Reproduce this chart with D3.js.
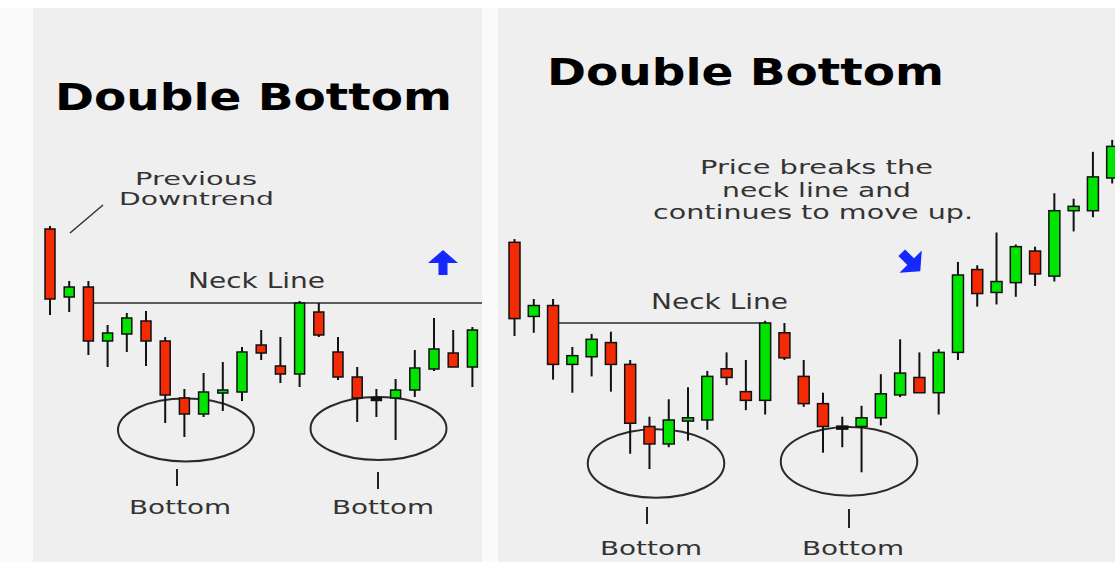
<!DOCTYPE html>
<html>
<head>
<meta charset="utf-8">
<script src="https://cdn.jsdelivr.net/npm/d3@7"></script>
<style>
  html, body { margin: 0; padding: 0; background: #ffffff; }
  svg { display: block; }
</style>
</head>
<body>
<div id="chart"></div>
<script>
// candle values (price units)
const openP  = [221, 153, 163, 109, 116, 129, 109, 52, 36, 57, 58, 105, 84, 76, 138, 98, 73, 51, 52, 60, 81, 97, 83,
                120, 196, 175, 184, 213, 190, 250, 250, 280];
const highP  = [224, 169, 169, 125, 137, 139, 113, 61, 77, 88, 103, 120, 113, 149, 147, 113, 83, 61, 71, 100, 132, 120, 123,
                203, 200, 230, 219, 217, 266, 261, 304, 315];
const lowP   = [135, 138, 95, 83, 98, 84, 27, 13, 33, 39, 49, 90, 67, 63, 113, 70, 28, 33, 10, 53, 79, 83, 63,
                113, 162, 164, 171, 181, 185, 231, 244, 275];
const closeP = [151, 163, 109, 117, 132, 109, 55, 36, 58, 60, 98, 97, 76, 147, 115, 73, 52, 51, 60, 82, 101, 83, 120,
                191, 174, 185, 217, 192, 250, 254, 281, 309];
const neckPrice = 147;

const leftCount = 23;
const rightCount = 32;

const titleText = 'Double Bottom';
const bottomLabel = 'Bottom';
const neckLabel = 'Neck Line';
const prevLines = ['Previous', 'Downtrend'];
const breakLines = ['Price breaks the', 'neck line and', 'continues to move up.'];

const W = 1115, H = 562;
const RED = '#f42a04', GREEN = '#00e400', INK = '#111', TXT = '#333', BLUE = '#1428ff';
const FONT = '"DejaVu Sans", Verdana, sans-serif';

const candles = d3.range(rightCount).map(i => ({
  i, o: openP[i], h: highP[i], l: lowP[i], c: closeP[i]
}));

const svg = d3.select('#chart').append('svg')
  .attr('width', W).attr('height', H);

svg.append('rect').attr('x', 0).attr('y', 8).attr('width', W).attr('height', H - 8).attr('fill', '#fafafa');

function fitText(g, str, x, y, width, size, weight, fill) {
  return g.append('text')
    .attr('x', x).attr('y', y)
    .attr('textLength', width).attr('lengthAdjust', 'spacingAndGlyphs')
    .attr('font-family', FONT).attr('font-size', size)
    .attr('font-weight', weight).attr('fill', fill)
    .text(str);
}

function drawPanel(p) {
  const g = svg.append('g');
  g.append('rect')
    .attr('x', p.bg[0]).attr('y', p.bg[1]).attr('width', p.bg[2]).attr('height', p.bg[3])
    .attr('fill', '#efefef');

  const x = d3.scaleLinear().domain([0, p.n - 1]).range(p.xRange);
  const y = d3.scaleLinear().domain([0, 300]).range(p.yRange);
  const data = candles.slice(0, p.n);
  const bw = p.bodyW;

  // ellipses around the two bottoms
  g.selectAll('ellipse.bot')
    .data(p.ellipses)
    .join('ellipse')
    .attr('cx', d => x(d[0]))
    .attr('cy', d => y(d[1]))
    .attr('rx', x(3.54) - x(0))
    .attr('ry', y(0) - y(31.5))
    .attr('fill', 'none').attr('stroke', '#2a2a2a').attr('stroke-width', 2);

  // neck line
  g.append('line')
    .attr('x1', x(2) + bw / 2).attr('x2', p.neckEnd(x, bw))
    .attr('y1', y(neckPrice)).attr('y2', y(neckPrice))
    .attr('stroke', '#2a2a2a').attr('stroke-width', 1.6);

  g.selectAll('line.wick')
    .data(data)
    .join('line')
    .attr('class', 'wick')
    .attr('x1', d => x(d.i)).attr('x2', d => x(d.i))
    .attr('y1', d => y(d.h)).attr('y2', d => y(d.l))
    .attr('stroke', INK).attr('stroke-width', 2);

  g.selectAll('rect.body')
    .data(data)
    .join('rect')
    .attr('class', 'body')
    .attr('x', d => x(d.i) - bw / 2)
    .attr('width', bw)
    .attr('y', d => d.o === d.c ? y(d.o) - 1.5 : y(Math.max(d.o, d.c)))
    .attr('height', d => d.o === d.c ? 3 : Math.abs(y(d.o) - y(d.c)))
    .attr('fill', d => d.c > d.o ? GREEN : d.c < d.o ? RED : INK)
    .attr('stroke', INK).attr('stroke-width', 1.5);

  // ticks and labels below ellipses
  p.bottoms.forEach(b => {
    g.append('line')
      .attr('x1', b.tick).attr('x2', b.tick)
      .attr('y1', b.ty[0]).attr('y2', b.ty[1])
      .attr('stroke', '#222').attr('stroke-width', 2);
    fitText(g, bottomLabel, b.lx, b.ly, 102, 20, 'normal', TXT);
  });

  fitText(g, neckLabel, p.neck[0], p.neck[1], 137, 21, 'normal', TXT);
  fitText(g, titleText, p.title[0], p.title[1], 397, 38, 'bold', '#000');

  // blue arrow
  g.append('path')
    .attr('d', 'M0,-12.5 L15,0.5 L4.5,0.5 L4.5,12.5 L-4.5,12.5 L-4.5,0.5 L-15,0.5 Z')
    .attr('transform', p.arrow)
    .attr('fill', BLUE);
  return g;
}

const left = drawPanel({
  n: leftCount,
  bg: [33, 8, 449, H - 8],
  xRange: [50, 472.4],
  yRange: [450, 150],
  bodyW: 10,
  neckEnd: () => 482,
  ellipses: [[7.08, 20], [17.11, 21.5]],
  bottoms: [
    { tick: 177, ty: [469, 486], lx: 129, ly: 514 },
    { tick: 378, ty: [472, 489], lx: 332, ly: 514 }
  ],
  neck: [188, 288],
  title: [55, 110],
  arrow: 'translate(443,262.5)'
});

const right = drawPanel({
  n: rightCount,
  bg: [498, 8, W - 498, H - 8],
  xRange: [514.5, 1112.2],
  yRange: [483.2, 156.2],
  bodyW: 11,
  neckEnd: (x, bw) => x(13) - bw / 2,
  ellipses: [[7.34, 18.1], [17.35, 20]],
  bottoms: [
    { tick: 647, ty: [507, 524], lx: 600, ly: 555 },
    { tick: 849, ty: [509, 528], lx: 802, ly: 555 }
  ],
  neck: [651, 309],
  title: [547, 85],
  arrow: 'translate(911,262) rotate(135) scale(1.05)'
});

// "Previous Downtrend" note with pointer
fitText(left, prevLines[0], 135, 185, 122, 18, 'normal', TXT);
fitText(left, prevLines[1], 119, 205, 155, 18, 'normal', TXT);
left.append('line')
  .attr('x1', 70).attr('y1', 233).attr('x2', 103).attr('y2', 205)
  .attr('stroke', '#333').attr('stroke-width', 1.5);

// break-out note
fitText(right, breakLines[0], 700, 174, 233, 19.5, 'normal', TXT);
fitText(right, breakLines[1], 722, 196.5, 189, 19.5, 'normal', TXT);
fitText(right, breakLines[2], 653, 219, 320, 19.5, 'normal', TXT);
</script>
</body>
</html>
